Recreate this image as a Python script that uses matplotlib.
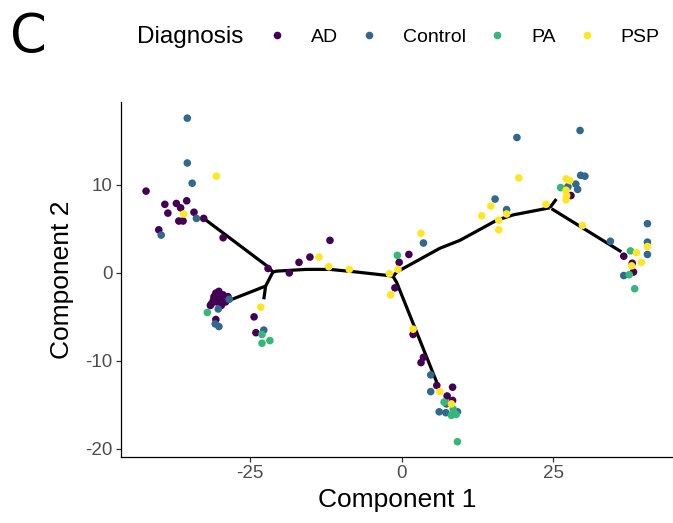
import matplotlib
matplotlib.use('Agg')
import matplotlib.pyplot as plt
from matplotlib.lines import Line2D

plt.rcParams['font.family'] = ['Liberation Sans', 'DejaVu Sans']
plt.rcParams['axes.unicode_minus'] = False

# cells per diagnosis (Component 1, Component 2)
ad_x = [-42.1, -39.0, -37.1, -35.4, -38.5, -36.4, -34.2, -36.7, -36.0, -32.6, -40.0, -29.4,
        -22.0, -18.5, -16.9, -30.6, -29.4, -29.9, -31.0, -30.4, -29.0, -31.5, -29.7, -30.6,
        -24.3, -24.0, -15.1, -11.8, -0.4, 1.2, -1.1, 1.9, 3.6, 3.2, 5.8, 8.4, 7.5, 8.4,
        27.9, 36.6, 38.0, 38.2, -28.6, -30.9, -30.1, -31.3]
ad_y = [9.3, 7.8, 7.9, 8.2, 6.8, 7.4, 6.9, 5.9, 5.9, 6.2, 4.9, 4.0,
        0.5, 0.0, 1.2, -2.3, -2.5, -2.9, -3.1, -3.3, -3.3, -3.7, -3.7, -5.3,
        -5.0, -6.8, 1.8, 3.7, 1.2, 2.1, -1.7, -7.0, -9.6, -10.2, -12.8, -13.0, -14.0, -14.5,
        8.8, 1.9, 1.1, 0.1, -2.7, -2.7, -2.1, -3.5]

ctrl_x = [-35.3, -35.3, -34.5, -33.8, -39.6, -28.4, -30.2, -30.7, -30.1, -22.7, 3.6, 4.8,
          4.8, 7.4, 6.2, 7.3, 9.2, 19.0, 29.4, 29.5, 30.2, 27.4, 28.7, 29.0, 15.4, 17.3,
          34.4, 40.5, 40.5, 40.5, 36.6]
ctrl_y = [17.6, 12.5, 10.2, 6.2, 4.3, -3.0, -4.1, -5.8, -6.1, -6.5, 3.4, -11.6,
          -13.5, -14.9, -15.8, -15.9, -15.8, 15.4, 16.2, 11.1, 11.0, 9.8, 10.1, 9.5, 8.4, 7.2,
          3.6, 5.6, 3.5, 2.1, -0.3]

pa_x = [-32.0, -23.0, -21.7, -23.0, -0.7, 7.0, 8.2, 9.0, 8.5, 9.2, 26.2, 37.7, 37.5, 38.4]
pa_y = [-4.5, -7.0, -7.7, -8.0, 2.0, -14.7, -16.2, -16.1, -15.5, -19.2, 9.7, 2.5, -0.2, -1.8]

psp_x = [-30.5, -35.9, -23.2, -13.6, -12.0, -8.6, -2.0, -0.6, 3.2, -1.8, 1.9, 6.3, 8.2,
         19.3, 27.1, 27.7, 27.1, 27.2, 27.1, 23.8, 14.7, 17.3, 13.2, 16.0, 16.0, 29.8,
         40.5, 38.7, 39.5, 37.9]
psp_y = [11.0, 6.7, -3.9, 1.8, 0.7, 0.4, -0.1, 0.4, 4.5, -2.5, -6.4, -13.5, -14.9,
         10.8, 10.7, 10.5, 9.4, 8.8, 8.3, 7.8, 7.6, 6.7, 6.5, 6.0, 4.9, 5.4,
         3.0, 2.3, 1.2, 0.8]

# trajectory tree (polylines)
tree_x = [[-32.6, -22.0, -21.2],
          [-28.3, -22.4, -21.2],
          [-22.4, -22.7],
          [-21.2, -20.6, -15.7, -11.8, -7.4, -2.2, -1.4],
          [-1.4, -0.8, 6.0],
          [-1.4, -0.8, 6.3, 9.6, 15.7, 18.4, 24.4],
          [24.4, 25.5],
          [24.7, 36.2]]
tree_y = [[6.2, 0.7, 0.1],
          [-3.1, -1.5, 0.1],
          [-1.5, -3.0],
          [0.1, 0.2, 0.4, 0.4, 0.1, -0.3, -0.4],
          [-0.4, -1.1, -12.8],
          [-0.4, 0.1, 2.8, 3.7, 6.0, 6.6, 7.4],
          [7.4, 8.4],
          [7.3, 2.4]]

groups = ['AD', 'Control', 'PA', 'PSP']
colors = ['#440154', '#31688E', '#35B779', '#FDE725']

fig = plt.figure(figsize=(6.73, 5.23), dpi=100)
ax = fig.add_axes([0.180, 0.126, 0.819, 0.679])

for tx, ty in zip(tree_x, tree_y):
    ax.plot(tx, ty, color='black', lw=2.3, solid_capstyle='butt', zorder=1)

data = [(ad_x, ad_y), (ctrl_x, ctrl_y), (pa_x, pa_y), (psp_x, psp_y)]
for (gx, gy), c in zip(data, colors):
    ax.scatter(gx, gy, s=30, color=c, edgecolors='none', zorder=2)

ax.set_xlim(-46.2, 44.6)
ax.set_ylim(-20.95, 19.44)
ax.set_xticks([-25, 0, 25])
ax.set_yticks([-20, -10, 0, 10])
for s in ['top', 'right']:
    ax.spines[s].set_visible(False)
for s in ['left', 'bottom']:
    ax.spines[s].set_linewidth(0.9)
ax.tick_params(length=3.5, width=0.9, color='#333333', labelcolor='#4D4D4D',
               labelsize=13.5, pad=2.5)

ax.set_xlabel('Component 1', fontsize=19, va='center')
ax.set_ylabel('Component 2', fontsize=19, va='center')
ax.xaxis.set_label_coords(0.5, -0.121)
ax.yaxis.set_label_coords(-0.108, 0.5)

# legend across the top
handles = [Line2D([], [], marker='o', ls='', color=c, markersize=5.5, markeredgewidth=0)
               for c in colors]
fig.legend(handles, groups, loc='center left', bbox_to_anchor=(267 / 673, 1 - 37 / 523),
           ncol=4, frameon=False, fontsize=14, handlelength=1.0, handletextpad=1.25,
           columnspacing=1.1, borderpad=0, borderaxespad=0)
fig.text(137 / 673, 1 - 37 / 523, 'Diagnosis', fontsize=17.5, va='center', ha='left')

fig.text(10 / 673, 1 - 37 / 523, 'C', fontsize=38, va='center', ha='left',
         family='DejaVu Sans')

fig.savefig('out.png', dpi=100)
